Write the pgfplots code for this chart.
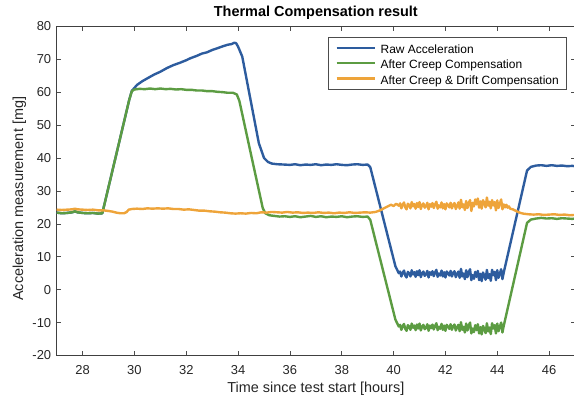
\documentclass[border=0pt]{standalone}
\usepackage{fontspec}
\setmainfont{Liberation Sans}
\usepackage{pgfplots}
\pgfplotsset{compat=1.18}

\definecolor{rawblue}{RGB}{45,92,158}
\definecolor{creepgreen}{RGB}{92,156,66}
\definecolor{driftorange}{RGB}{238,164,58}

\begin{document}
\begin{tikzpicture}
\begin{axis}[
  scale only axis,
  width=518.3bp, height=329.2bp,
  xmin=27, xmax=47, ymin=-20, ymax=80,
  xtick={28,30,...,46}, ytick={-20,-10,...,80},
  tick pos=both, tick align=inside,
  major tick length=4.5bp,
  tick style={line width=0.6bp, color=black!70},
  axis line style={line width=0.6bp, draw=black!75},
  /pgf/number format/assume math mode=true,
  ticklabel style={font=\fontsize{13}{15}\selectfont, text=black!85},
  xticklabel style={yshift=-6.9bp},
  yticklabel style={xshift=-2bp},
  title={\textbf{Thermal Compensation result}},
  title style={font=\fontsize{14.5}{17}\selectfont, at={(axis description cs:0.5,1.0109)}, anchor=base},
  xlabel={Time since test start [hours]},
  ylabel={Acceleration measurement [mg]},
  xlabel style={font=\fontsize{14.5}{17}\selectfont, text=black!85, at={(axis description cs:0.5,-0.1139)}, anchor=base},
  ylabel style={font=\fontsize{14.5}{17}\selectfont, text=black!85, at={(axis description cs:-0.0650,0.476)}, anchor=base},
  legend style={
    at={(axis description cs:1,1)}, anchor=north east,
    xshift=-9bp, yshift=-10.4bp,
    draw=black!70, line width=0.5bp, fill=white,
    font=\fontsize{12}{14}\selectfont,
    inner xsep=7bp, inner ysep=3.35bp,
    row sep=0pt, column sep=5bp,
    nodes={inner sep=0pt, text height=13.3bp, text depth=2.0bp},
  },
  legend cell align=left,
  legend image code/.code={\draw[#1, line width=2.2bp] (0bp,0bp) -- (38bp,0bp);},
]

% Raw sensor output
\addplot[rawblue, line width=2.4bp, line join=round] coordinates {
(27.0,23.4)(27.2,23.2)(27.4,23.3)(27.6,23.5)(27.7,23.8)(27.8,23.5)(28.0,23.3)(28.2,23.2)(28.4,23.3)(28.6,23.1)(28.76,23.2)
(29.3,41.1)(29.8,57.7)(29.9,60.4)(30.1,62.2)(30.3,63.3)(30.5,64.2)(30.75,65.3)(31.0,66.2)(31.25,67.3)(31.5,68.2)(31.75,68.9)
(32.0,69.7)(32.16,70.3)(32.4,71.0)(32.6,71.7)(32.8,72.1)(33.0,72.8)(33.19,73.3)(33.4,73.9)(33.6,74.4)(33.75,74.6)(33.85,75.0)(33.92,74.9)
(34.0,73.8)(34.16,70.8)(34.8,44.5)(35.0,40.0)(35.15,38.8)(35.3,38.3)(35.5,38.1)(35.77,38.0)(36.0,37.9)(36.2,38.1)(36.4,37.8)(36.6,38.0)
(36.8,37.9)(37.0,38.1)(37.2,37.8)(37.4,38.0)(37.6,37.9)(37.8,38.1)(38.0,37.9)(38.2,37.8)(38.4,38.0)(38.6,38.1)(38.8,37.9)(39.0,38.0)
(39.1,37.2)(40.07,7.1)(40.2,5.0)
(40.25,5.5)(40.30,4.0)(40.35,5.1)(40.40,5.8)(40.45,4.3)(40.50,3.7)(40.55,5.4)(40.60,5.0)(40.65,4.0)(40.70,5.9)(40.75,4.6)(40.80,5.3)
(40.85,3.9)(40.90,5.6)(40.95,4.4)(41.00,5.9)(41.05,3.8)(41.10,5.0)(41.15,5.5)(41.20,4.2)(41.25,4.6)(41.30,5.7)(41.35,3.7)(41.40,5.3)
(41.45,4.5)(41.50,5.6)(41.55,4.1)(41.60,5.2)(41.65,6.0)(41.70,3.9)(41.75,4.9)(41.80,4.3)(41.85,5.8)(41.90,4.0)(41.95,5.3)(42.00,3.7)
(42.05,5.5)(42.10,5.0)(42.15,4.3)(42.20,5.7)(42.25,4.0)(42.30,5.1)(42.35,5.6)(42.40,3.8)(42.45,4.7)(42.50,5.5)(42.55,3.6)(42.60,6.3)
(42.65,4.0)(42.70,4.9)(42.75,3.2)(42.80,5.9)(42.85,3.8)(42.90,5.3)(42.95,6.2)(43.00,2.9)(43.05,4.4)(43.10,3.3)(43.15,5.4)(43.20,3.9)
(43.25,5.7)(43.30,2.9)(43.35,4.8)(43.40,2.6)(43.45,5.2)(43.50,4.3)(43.55,3.0)(43.60,6.0)(43.65,3.5)(43.70,4.7)(43.75,2.7)(43.80,6.0)
(43.85,4.4)(43.90,5.4)(43.95,2.9)(44.00,5.9)(44.05,3.6)(44.10,4.9)(44.15,6.2)(44.20,3.2)
(44.25,5.2)(45.15,36.2)(45.3,37.3)(45.5,37.7)(45.7,37.8)(45.9,37.6)(46.1,37.8)(46.3,37.6)(46.5,37.7)(46.7,37.5)(46.9,37.6)(47.0,37.5)
};
\addlegendentry{Raw Acceleration}

% Creep model removed
\addplot[creepgreen, line width=2.4bp, line join=round] coordinates {
(27.0,23.4)(27.2,23.2)(27.4,23.3)(27.6,23.5)(27.7,23.8)(27.8,23.5)(28.0,23.3)(28.2,23.2)(28.4,23.3)(28.6,23.1)(28.76,23.2)
(29.3,41.1)(29.8,57.7)(29.9,60.3)(30.0,60.8)(30.2,61.0)(30.4,60.9)(30.6,61.1)(30.8,60.9)(31.0,61.1)(31.2,60.9)(31.4,61.0)(31.6,60.8)
(31.8,60.9)(32.0,60.7)(32.2,60.7)(32.4,60.5)(32.6,60.5)(32.8,60.3)(33.0,60.3)(33.2,60.1)(33.4,60.0)(33.6,59.8)(33.8,59.8)(33.95,59.3)
(34.05,57.3)(34.5,41.0)(34.95,24.8)(35.05,23.2)(35.2,22.6)(35.4,22.4)(35.6,22.2)(35.8,22.3)(36.0,22.1)(36.2,22.3)(36.4,22.0)(36.6,22.2)
(36.8,22.4)(37.0,22.1)(37.2,22.3)(37.4,22.0)(37.6,22.2)(37.8,22.1)(38.0,22.3)(38.2,22.0)(38.4,22.2)(38.6,22.3)(38.8,22.1)(39.0,22.2)
(39.1,21.2)(40.07,-9.1)(40.2,-11.2)
(40.25,-10.7)(40.30,-12.2)(40.35,-11.1)(40.40,-10.4)(40.45,-11.9)(40.50,-12.5)(40.55,-10.8)(40.60,-11.2)(40.65,-12.2)(40.70,-10.3)
(40.75,-11.6)(40.80,-10.9)(40.85,-12.3)(40.90,-10.6)(40.95,-11.8)(41.00,-10.3)(41.05,-12.4)(41.10,-11.2)(41.15,-10.7)(41.20,-12.0)
(41.25,-11.6)(41.30,-10.5)(41.35,-12.5)(41.40,-10.9)(41.45,-11.7)(41.50,-10.6)(41.55,-12.1)(41.60,-11.0)(41.65,-10.2)(41.70,-12.3)
(41.75,-11.3)(41.80,-11.9)(41.85,-10.4)(41.90,-12.2)(41.95,-10.9)(42.00,-12.5)(42.05,-10.7)(42.10,-11.2)(42.15,-11.9)(42.20,-10.5)
(42.25,-12.2)(42.30,-11.1)(42.35,-10.6)(42.40,-12.4)(42.45,-11.5)(42.50,-10.7)(42.55,-12.6)(42.60,-9.9)(42.65,-12.2)(42.70,-11.3)
(42.75,-13.0)(42.80,-10.3)(42.85,-12.4)(42.90,-10.9)(42.95,-10.0)(43.00,-13.3)(43.05,-11.8)(43.10,-12.9)(43.15,-10.8)(43.20,-12.3)
(43.25,-10.5)(43.30,-13.3)(43.35,-11.4)(43.40,-13.6)(43.45,-11.0)(43.50,-11.9)(43.55,-13.2)(43.60,-10.2)(43.65,-12.7)(43.70,-11.5)
(43.75,-13.5)(43.80,-10.2)(43.85,-11.8)(43.90,-10.8)(43.95,-13.3)(44.00,-10.3)(44.05,-12.6)(44.10,-11.3)(44.15,-10.0)(44.20,-13.0)
(44.25,-11.0)(45.15,20.3)(45.3,21.3)(45.5,21.6)(45.7,21.8)(45.9,21.6)(46.1,21.7)(46.3,21.5)(46.5,21.7)(46.7,21.6)(46.9,21.5)(47.0,21.6)
};
\addlegendentry{After Creep Compensation}

% Creep and thermal drift models removed
\addplot[driftorange, line width=2.4bp, line join=round] coordinates {
(27.0,24.3)(27.2,24.2)(27.4,24.3)(27.6,24.4)(27.7,24.6)(27.8,24.4)(28.0,24.3)(28.2,24.2)(28.4,24.3)(28.6,24.1)(28.8,24.1)(29.0,23.9)
(29.15,23.7)(29.3,23.4)(29.45,23.2)(29.6,23.2)(29.7,23.6)(29.78,24.3)(29.9,24.5)(30.1,24.6)(30.3,24.5)(30.5,24.7)(30.7,24.6)(30.9,24.7)
(31.1,24.6)(31.3,24.7)(31.5,24.5)(31.7,24.5)(31.9,24.3)(32.1,24.4)(32.3,24.2)(32.5,24.0)(32.7,24.0)(32.9,23.8)(33.1,23.7)(33.3,23.5)
(33.5,23.4)(33.7,23.2)(33.9,23.1)(34.1,23.2)(34.3,23.1)(34.5,23.3)(34.7,23.2)(34.9,23.5)(35.1,23.4)(35.3,23.6)(35.5,23.5)(35.7,23.4)
(35.9,23.6)(36.1,23.4)(36.3,23.5)(36.5,23.3)(36.7,23.4)(36.9,23.3)(37.1,23.5)(37.3,23.3)(37.5,23.4)(37.7,23.2)(37.9,23.4)(38.1,23.3)
(38.3,23.5)(38.5,23.3)(38.7,23.4)(38.9,23.5)(39.1,23.4)(39.3,23.6)(39.45,24.0)(39.6,24.6)(39.75,25.2)(39.9,25.8)(40.0,25.4)(40.1,26.1)(40.2,25.5)
(40.25,26.2)(40.30,24.7)(40.35,25.8)(40.40,26.5)(40.45,25.0)(40.50,24.4)(40.55,26.1)(40.60,25.7)(40.65,24.7)(40.70,26.6)(40.75,25.3)
(40.80,26.0)(40.85,24.6)(40.90,26.3)(40.95,25.1)(41.00,26.6)(41.05,24.5)(41.10,25.7)(41.15,26.2)(41.20,24.9)(41.25,25.3)(41.30,26.4)
(41.35,24.4)(41.40,26.0)(41.45,25.2)(41.50,26.3)(41.55,24.8)(41.60,25.9)(41.65,26.7)(41.70,24.6)(41.75,25.6)(41.80,25.0)(41.85,26.5)
(41.90,24.7)(41.95,26.0)(42.00,24.4)(42.05,26.2)(42.10,25.7)(42.15,25.0)(42.20,26.4)(42.25,24.7)(42.30,25.8)(42.35,26.3)(42.40,24.5)
(42.45,25.4)(42.50,26.5)(42.55,24.6)(42.60,27.3)(42.65,25.0)(42.70,25.9)(42.75,24.2)(42.80,26.9)(42.85,24.8)(42.90,26.3)(42.95,27.2)
(43.00,23.9)(43.05,26.4)(43.10,25.3)(43.15,27.4)(43.20,25.9)(43.25,27.7)(43.30,24.9)(43.35,26.8)(43.40,24.6)(43.45,27.2)(43.50,26.3)
(43.55,25.0)(43.60,28.0)(43.65,25.5)(43.70,26.7)(43.75,24.7)(43.80,27.2)(43.85,25.6)(43.90,26.6)(43.95,24.1)(44.00,27.1)(44.05,24.8)
(44.10,26.1)(44.15,27.4)(44.20,24.4)
(44.25,25.9)(44.30,25.0)(44.35,25.8)(44.40,24.9)(44.45,25.3)(44.50,24.6)(44.6,24.4)(44.7,24.0)(44.8,23.6)(44.9,23.3)(45.0,23.1)
(45.2,22.9)(45.4,22.8)(45.6,22.9)(45.8,22.7)(46.0,22.8)(46.2,22.9)(46.4,22.7)(46.6,22.8)(46.8,22.6)(47.0,22.7)
};
\addlegendentry{After Creep \& Drift Compensation}

\end{axis}
\pgfresetboundingbox
\path[use as bounding box]
  ([shift={(-56.7bp,-45.5bp)}]current axis.south west)
  rectangle ([shift={(-1bp,26.3bp)}]current axis.north east);
\end{tikzpicture}
\end{document}
